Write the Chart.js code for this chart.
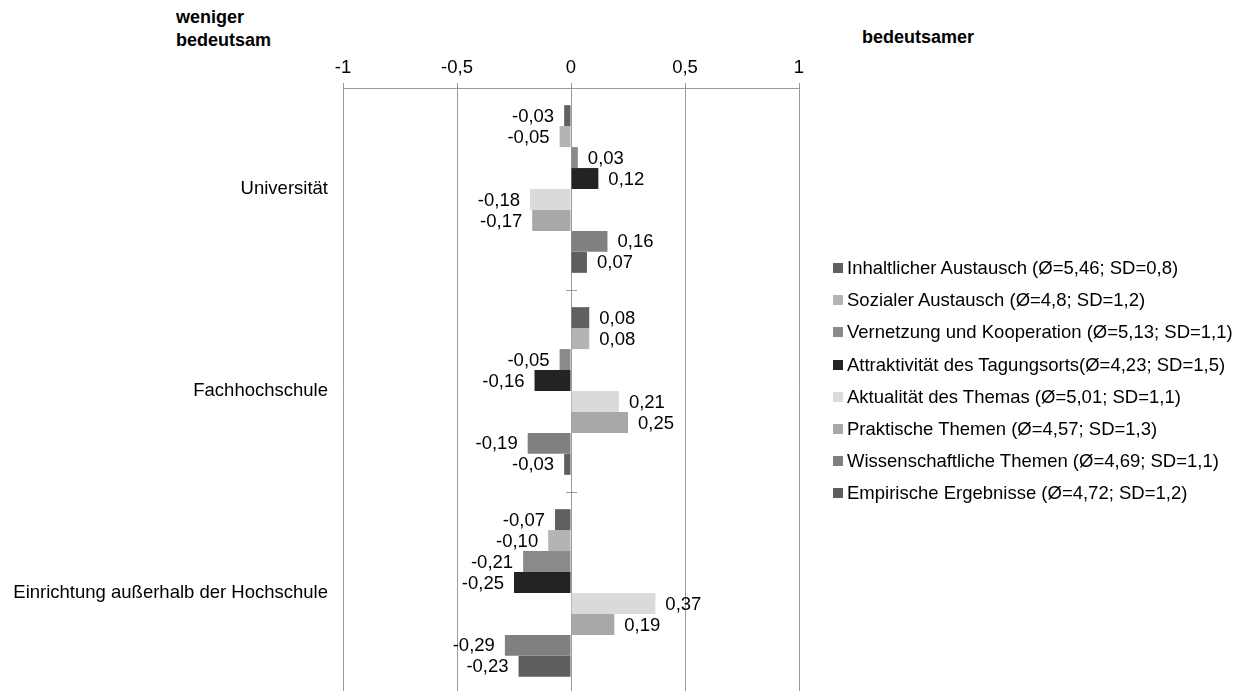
<!DOCTYPE html>
<html lang="de">
<head>
<meta charset="utf-8">
<title>Bedeutsamkeit nach Einrichtung</title>
<script src="https://cdn.jsdelivr.net/npm/chart.js@4/dist/chart.umd.min.js"></script>
<style>
  html, body { margin: 0; padding: 0; background: #fff; overflow: hidden; }
  body { width: 1244px; height: 691px; position: relative; font-family: "Liberation Sans", Arial, sans-serif; }
  #wrap { position: absolute; left: 0; top: 0; width: 1244px; height: 694px; }
  .head { position: absolute; font-weight: bold; font-size: 18px; line-height: 23px; color: #000; white-space: nowrap; }
  #legend { position: absolute; left: 833px; top: 252px; }
  .row { height: 32.2px; display: flex; align-items: center; font-size: 18.5px; color: #000; white-space: nowrap; }
  .sw { width: 10px; height: 10px; margin-right: 4px; flex: none; }
</style>
</head>
<body>
<div class="head" style="left:176px; top:6px;">weniger<br>bedeutsam</div>
<div class="head" style="left:862px; top:26px;">bedeutsamer</div>
<div id="wrap"><canvas id="chart" width="1244" height="694"></canvas></div>
<div id="legend"></div>
<script>
// Institution types (rows of the chart)
const categories = ['Universität', 'Fachhochschule', 'Einrichtung außerhalb der Hochschule'];

// Aspects with mean and SD, one series each
const seriesNames = [
  'Inhaltlicher Austausch (Ø=5,46; SD=0,8)',
  'Sozialer Austausch (Ø=4,8; SD=1,2)',
  'Vernetzung und Kooperation (Ø=5,13; SD=1,1)',
  'Attraktivität des Tagungsorts(Ø=4,23; SD=1,5)',
  'Aktualität des Themas (Ø=5,01; SD=1,1)',
  'Praktische Themen (Ø=4,57; SD=1,3)',
  'Wissenschaftliche Themen (Ø=4,69; SD=1,1)',
  'Empirische Ergebnisse (Ø=4,72; SD=1,2)'
];

// Deviation per aspect, ordered Universität / Fachhochschule / Einrichtung
const inhaltlicherAustausch   = [-0.03,  0.08, -0.07];
const sozialerAustausch       = [-0.05,  0.08, -0.10];
const vernetzungKooperation   = [ 0.03, -0.05, -0.21];
const attraktivitaetOrt       = [ 0.12, -0.16, -0.25];
const aktualitaetThema        = [-0.18,  0.21,  0.37];
const praktischeThemen        = [-0.17,  0.25,  0.19];
const wissenschaftlicheThemen = [ 0.16, -0.19, -0.29];
const empirischeErgebnisse    = [ 0.07, -0.03, -0.23];

const seriesValues = [
  inhaltlicherAustausch, sozialerAustausch, vernetzungKooperation, attraktivitaetOrt,
  aktualitaetThema, praktischeThemen, wissenschaftlicheThemen, empirischeErgebnisse
];

const seriesColors = ['#606060', '#b4b4b4', '#8a8a8a', '#232323', '#dadada', '#a8a8a8', '#808080', '#5e5e5e'];

// Axis ticks
const xTickValues = [-1, -0.5, 0, 0.5, 1];

const FONT = '"Liberation Sans", Arial, sans-serif';
const fmt = v => (Math.round(v * 100) / 100).toString().replace('.', ',');
const fmtLabel = v => v.toFixed(2).replace('.', ',');

// Value labels beside the bar ends
const valueLabels = {
  id: 'valueLabels',
  afterDatasetsDraw(chart) {
    const ctx = chart.ctx;
    ctx.save();
    ctx.font = '18.5px ' + FONT;
    ctx.fillStyle = '#000';
    ctx.textBaseline = 'middle';
    chart.data.datasets.forEach((ds, di) => {
      const meta = chart.getDatasetMeta(di);
      meta.data.forEach((el, i) => {
        const v = ds.data[i];
        if (v >= 0) { ctx.textAlign = 'left'; ctx.fillText(fmtLabel(v), el.x + 10, el.y + 1); }
        else { ctx.textAlign = 'right'; ctx.fillText(fmtLabel(v), el.x - 10, el.y + 1); }
      });
    });
    ctx.restore();
  }
};

// Small cross ticks on the zero line between categories
const categoryTicks = {
  id: 'categoryTicks',
  afterDatasetsDraw(chart) {
    const xs = chart.scales.x, ys = chart.scales.y, ctx = chart.ctx;
    const x0 = xs.getPixelForValue(0);
    ctx.save();
    ctx.strokeStyle = '#9a9a9a';
    ctx.lineWidth = 1;
    for (let i = 1; i < categories.length; i++) {
      const y = Math.round((ys.getPixelForValue(i - 1) + ys.getPixelForValue(i)) / 2) + 0.5;
      ctx.beginPath();
      ctx.moveTo(x0 - 5, y);
      ctx.lineTo(x0 + 6, y);
      ctx.stroke();
    }
    ctx.restore();
  }
};

new Chart(document.getElementById('chart'), {
  type: 'bar',
  data: {
    labels: categories,
    datasets: seriesNames.map((name, i) => ({
      label: name,
      data: seriesValues[i],
      backgroundColor: seriesColors[i],
      borderWidth: 0,
      categoryPercentage: 0.83,
      barPercentage: 1.0
    }))
  },
  options: {
    indexAxis: 'y',
    responsive: false,
    animation: false,
    layout: { padding: { left: 0, right: 445, top: 0, bottom: 0 } },
    plugins: { legend: { display: false }, tooltip: { enabled: false } },
    scales: {
      x: {
        position: 'top',
        min: -1,
        max: 1,
        afterBuildTicks(scale) { scale.ticks = xTickValues.map(v => ({ value: v })); },
        afterFit(scale) { scale.height = 88; },
        grid: { color: '#9a9a9a', lineWidth: 1, drawTicks: true, tickLength: 5, tickColor: '#9a9a9a' },
        border: { display: true, color: '#9a9a9a', width: 1 },
        ticks: {
          padding: 4,
          maxRotation: 0,
          color: '#000',
          font: { family: FONT, size: 18.5 },
          callback: v => fmt(v)
        }
      },
      y: {
        afterFit(scale) {
          scale.width = 343;
          scale.paddingTop = 0;
          scale.paddingBottom = 0;
        },
        grid: { display: false, drawTicks: false },
        border: { display: false },
        ticks: {
          padding: 15,
          color: '#000',
          font: { family: FONT, size: 18.5 }
        }
      }
    }
  },
  plugins: [valueLabels, categoryTicks]
});

// Legend block beside the plot
const legend = document.getElementById('legend');
seriesNames.forEach((name, i) => {
  const row = document.createElement('div');
  row.className = 'row';
  const sw = document.createElement('span');
  sw.className = 'sw';
  sw.style.background = seriesColors[i];
  const tx = document.createElement('span');
  tx.textContent = name;
  row.appendChild(sw);
  row.appendChild(tx);
  legend.appendChild(row);
});
</script>
</body>
</html>
